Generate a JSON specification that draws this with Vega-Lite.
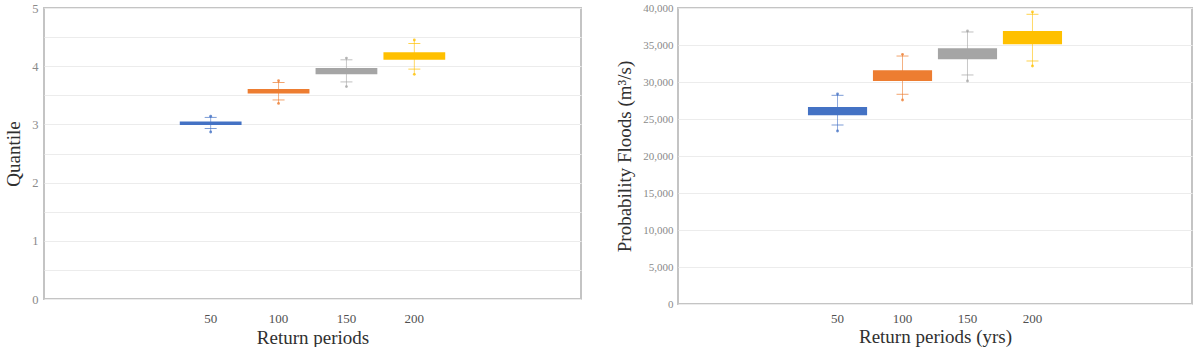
{
  "$schema": "https://vega.github.io/schema/vega-lite/v6.json",
  "padding": {"left": 3, "top": 1, "right": 0, "bottom": 0},
  "background": "white",
  "spacing": 32,
  "config": {
    "font": "Liberation Serif",
    "view": {"stroke": "#c4c4c4", "strokeWidth": 2},
    "axis": {"ticks": false, "domain": false, "gridColor": "#ececec", "gridWidth": 1, "labelFont": "Liberation Serif", "titleFont": "Liberation Serif", "titleFontWeight": "normal", "titleColor": "#303030"},
    "axisX": {"labelAngle": 0, "labelColor": "#505050", "labelFontSize": 13, "titleFontSize": 19, "grid": false},
    "axisY": {"labelColor": "#8a8a8a", "titleFontSize": 19}
  },
  "datasets": {
    "quantile": [
      {"period": "50", "q1": 2.99, "q3": 3.05, "capLow": 2.93, "capHigh": 3.12, "min": 2.87, "max": 3.14},
      {"period": "100", "q1": 3.53, "q3": 3.61, "capLow": 3.42, "capHigh": 3.72, "min": 3.36, "max": 3.75},
      {"period": "150", "q1": 3.86, "q3": 3.97, "capLow": 3.73, "capHigh": 4.11, "min": 3.65, "max": 4.14},
      {"period": "200", "q1": 4.11, "q3": 4.24, "capLow": 3.95, "capHigh": 4.39, "min": 3.86, "max": 4.45}
    ],
    "floods": [
      {"period": "50", "q1": 25500, "q3": 26620, "capLow": 24190, "capHigh": 28200, "min": 23380, "max": 28380},
      {"period": "100", "q1": 30140, "q3": 31580, "capLow": 28340, "capHigh": 33510, "min": 27570, "max": 33740},
      {"period": "150", "q1": 33070, "q3": 34550, "capLow": 30950, "capHigh": 36760, "min": 30140, "max": 36900},
      {"period": "200", "q1": 35100, "q3": 36890, "capLow": 32840, "capHigh": 39150, "min": 32160, "max": 39460}
    ]
  },
  "hconcat": [
    {
      "width": 537,
      "height": 291,
      "data": {"name": "quantile"},
      "encoding": {
        "x": {"field": "period", "type": "nominal",
              "scale": {"domain": ["_1", "_2", "50", "100", "150", "200", "_3", "_4"], "paddingOuter": 0, "paddingInner": 0.09},
              "axis": {"title": "Return periods", "labelPadding": 13, "titlePadding": 3, "labelExpr": "indexof(datum.label, '_') === 0 ? '' : datum.label"}},
        "color": {"field": "period", "type": "nominal", "legend": null,
                  "scale": {"domain": ["50", "100", "150", "200"], "range": ["#4472C4", "#ED7D31", "#A5A5A5", "#FFC000"]}}
      },
      "layer": [
        {
          "mark": {"type": "rule", "strokeWidth": 1, "opacity": 0.6},
          "encoding": {
            "y": {"field": "min", "type": "quantitative", "scale": {"domain": [0, 5], "nice": false},
                  "axis": {"title": "Quantile", "values": [0, 0.5, 1, 1.5, 2, 2.5, 3, 3.5, 4, 4.5, 5], "labelExpr": "datum.value % 1 === 0 ? format(datum.value, 'd') : ''", "labelFontSize": 12.5, "labelPadding": 6, "titlePadding": 8}},
            "y2": {"field": "max"}
          }
        },
        {
          "mark": {"type": "bar"},
          "encoding": {"y": {"field": "q1", "type": "quantitative",
                  "axis": {"title": "Quantile", "values": [0, 0.5, 1, 1.5, 2, 2.5, 3, 3.5, 4, 4.5, 5], "labelExpr": "datum.value % 1 === 0 ? format(datum.value, 'd') : ''", "labelFontSize": 12.5, "labelPadding": 6, "titlePadding": 8}}, "y2": {"field": "q3"}}
        },
        {
          "mark": {"type": "tick", "size": 12, "thickness": 1, "opacity": 0.7},
          "encoding": {"y": {"field": "capLow", "type": "quantitative",
                  "axis": {"title": "Quantile", "values": [0, 0.5, 1, 1.5, 2, 2.5, 3, 3.5, 4, 4.5, 5], "labelExpr": "datum.value % 1 === 0 ? format(datum.value, 'd') : ''", "labelFontSize": 12.5, "labelPadding": 6, "titlePadding": 8}}}
        },
        {
          "mark": {"type": "tick", "size": 12, "thickness": 1, "opacity": 0.7},
          "encoding": {"y": {"field": "capHigh", "type": "quantitative",
                  "axis": {"title": "Quantile", "values": [0, 0.5, 1, 1.5, 2, 2.5, 3, 3.5, 4, 4.5, 5], "labelExpr": "datum.value % 1 === 0 ? format(datum.value, 'd') : ''", "labelFontSize": 12.5, "labelPadding": 6, "titlePadding": 8}}}
        },
        {
          "mark": {"type": "point", "filled": true, "size": 8, "opacity": 0.8},
          "encoding": {"y": {"field": "min", "type": "quantitative",
                  "axis": {"title": "Quantile", "values": [0, 0.5, 1, 1.5, 2, 2.5, 3, 3.5, 4, 4.5, 5], "labelExpr": "datum.value % 1 === 0 ? format(datum.value, 'd') : ''", "labelFontSize": 12.5, "labelPadding": 6, "titlePadding": 8}}}
        },
        {
          "mark": {"type": "point", "filled": true, "size": 8, "opacity": 0.8},
          "encoding": {"y": {"field": "max", "type": "quantitative",
                  "axis": {"title": "Quantile", "values": [0, 0.5, 1, 1.5, 2, 2.5, 3, 3.5, 4, 4.5, 5], "labelExpr": "datum.value % 1 === 0 ? format(datum.value, 'd') : ''", "labelFontSize": 12.5, "labelPadding": 6, "titlePadding": 8}}}
        }
      ]
    },
    {
      "width": 514,
      "height": 296,
      "data": {"name": "floods"},
      "encoding": {
        "x": {"field": "period", "type": "nominal",
              "scale": {"domain": ["_1", "_2", "50", "100", "150", "200", "_3", "_4"], "paddingOuter": 0, "paddingInner": 0.09},
              "axis": {"title": "Return periods (yrs)", "labelPadding": 8, "titlePadding": 2, "labelExpr": "indexof(datum.label, '_') === 0 ? '' : datum.label"}},
        "color": {"field": "period", "type": "nominal", "legend": null,
                  "scale": {"domain": ["50", "100", "150", "200"], "range": ["#4472C4", "#ED7D31", "#A5A5A5", "#FFC000"]}}
      },
      "layer": [
        {
          "mark": {"type": "rule", "strokeWidth": 1, "opacity": 0.6},
          "encoding": {
            "y": {"field": "min", "type": "quantitative", "scale": {"domain": [0, 40000], "nice": false},
                  "axis": {"title": "Probability Floods (m³/s)", "values": [0, 5000, 10000, 15000, 20000, 25000, 30000, 35000, 40000], "labelExpr": "format(datum.value, ',.0f')", "labelFontSize": 11, "labelPadding": 5, "titlePadding": 8}},
            "y2": {"field": "max"}
          }
        },
        {
          "mark": {"type": "bar"},
          "encoding": {"y": {"field": "q1", "type": "quantitative",
                  "axis": {"title": "Probability Floods (m³/s)", "values": [0, 5000, 10000, 15000, 20000, 25000, 30000, 35000, 40000], "labelExpr": "format(datum.value, ',.0f')", "labelFontSize": 11, "labelPadding": 5, "titlePadding": 8}}, "y2": {"field": "q3"}}
        },
        {
          "mark": {"type": "tick", "size": 12, "thickness": 1, "opacity": 0.7},
          "encoding": {"y": {"field": "capLow", "type": "quantitative",
                  "axis": {"title": "Probability Floods (m³/s)", "values": [0, 5000, 10000, 15000, 20000, 25000, 30000, 35000, 40000], "labelExpr": "format(datum.value, ',.0f')", "labelFontSize": 11, "labelPadding": 5, "titlePadding": 8}}}
        },
        {
          "mark": {"type": "tick", "size": 12, "thickness": 1, "opacity": 0.7},
          "encoding": {"y": {"field": "capHigh", "type": "quantitative",
                  "axis": {"title": "Probability Floods (m³/s)", "values": [0, 5000, 10000, 15000, 20000, 25000, 30000, 35000, 40000], "labelExpr": "format(datum.value, ',.0f')", "labelFontSize": 11, "labelPadding": 5, "titlePadding": 8}}}
        },
        {
          "mark": {"type": "point", "filled": true, "size": 8, "opacity": 0.8},
          "encoding": {"y": {"field": "min", "type": "quantitative",
                  "axis": {"title": "Probability Floods (m³/s)", "values": [0, 5000, 10000, 15000, 20000, 25000, 30000, 35000, 40000], "labelExpr": "format(datum.value, ',.0f')", "labelFontSize": 11, "labelPadding": 5, "titlePadding": 8}}}
        },
        {
          "mark": {"type": "point", "filled": true, "size": 8, "opacity": 0.8},
          "encoding": {"y": {"field": "max", "type": "quantitative",
                  "axis": {"title": "Probability Floods (m³/s)", "values": [0, 5000, 10000, 15000, 20000, 25000, 30000, 35000, 40000], "labelExpr": "format(datum.value, ',.0f')", "labelFontSize": 11, "labelPadding": 5, "titlePadding": 8}}}
        }
      ]
    }
  ]
}
